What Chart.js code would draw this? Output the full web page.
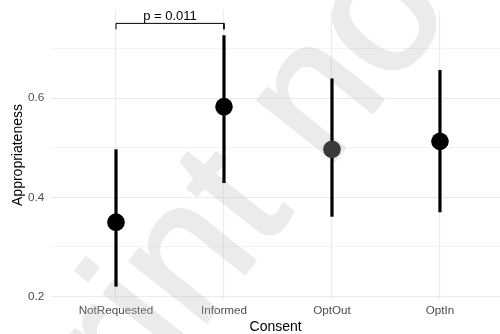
<!DOCTYPE html>
<html><head><meta charset="utf-8">
<script src="https://cdn.jsdelivr.net/npm/chart.js@4.4.0/dist/chart.umd.min.js"></script>
<style>html,body{margin:0;padding:0;background:#fff}</style>
</head><body>
<canvas id="c" width="500" height="334"></canvas>
<script>
const categories = ['NotRequested', 'Informed', 'OptOut', 'OptIn'];
const means = [0.350, 0.583, 0.497, 0.513];
const lower = [0.220, 0.429, 0.361, 0.370];
const upper = [0.497, 0.727, 0.640, 0.657];
const yTicks = [0.2, 0.3, 0.4, 0.5, 0.6, 0.7];
const yLabels = ['0.2', '', '0.4', '', '0.6', ''];
const bracketCats = [1, 2];
const bracketTop = 0.751;
const bracketFoot = 0.739;
const bracketLabel = 'p = 0.011';
const watermarkText = 'Preprint not peer reviewed';

const FONT = "'Liberation Sans', Arial, Helvetica, sans-serif";
const pointColors = ['#000', '#000', '#3a3a3a', '#000'];

const datasets = [];
datasets.push({
  label: 'mean',
  data: means.map((m, i) => ({x: i + 1, y: m})),
  pointRadius: 8.8,
  pointBackgroundColor: pointColors,
  pointBorderWidth: 0,
  showLine: false,
  order: 0,
  clip: false
});
categories.forEach((c, i) => {
  datasets.push({
    label: 'ci' + i,
    data: [{x: i + 1, y: lower[i]}, {x: i + 1, y: upper[i]}],
    showLine: true,
    borderColor: '#000',
    borderWidth: 3.2,
    borderCapStyle: 'butt',
    pointRadius: 0,
    order: 1,
    clip: false
  });
});
datasets.push({
  label: 'bracket',
  data: [
    {x: bracketCats[0], y: bracketFoot}, {x: bracketCats[0], y: bracketTop},
    {x: bracketCats[1], y: bracketTop}, {x: bracketCats[1], y: bracketFoot}
  ],
  showLine: true,
  borderColor: '#000',
  borderWidth: 1,
  pointRadius: 0,
  order: 1,
  clip: false
});

const annotPlugin = {
  id: 'annot',
  beforeDatasetsDraw(chart) {
    const ctx = chart.ctx;
    const off = document.createElement('canvas');
    off.width = chart.width; off.height = chart.height;
    const o = off.getContext('2d');
    const F = 185, th = 51.5 * Math.PI / 180;
    o.font = F + 'px ' + FONT;
    const s = o.measureText('Prepr').width + o.measureText('i').width / 2;
    const h = 0.675 * F;
    const bx = Math.cos(th), by = -Math.sin(th);
    const ux = -Math.sin(th), uy = -Math.cos(th);
    const Dx = 88, Dy = 270;
    const Ox = Dx - s * bx - h * ux, Oy = Dy - s * by - h * uy;
    o.translate(Ox, Oy);
    o.rotate(-th);
    o.fillStyle = 'rgb(183,183,183)';
    o.strokeStyle = 'rgb(183,183,183)';
    o.lineWidth = 3;
    o.lineJoin = 'round';
    o.textBaseline = 'alphabetic';
    o.fillText(watermarkText, 0, 0);
    o.strokeText(watermarkText, 0, 0);
    ctx.save();
    ctx.globalAlpha = 0.28;
    ctx.drawImage(off, 0, 0);
    ctx.restore();
  },
  afterDatasetsDraw(chart) {
    const ctx = chart.ctx;
    const xs = chart.scales.x, ys = chart.scales.y;
    ctx.save();
    ctx.fillStyle = '#000';
    ctx.font = '13px ' + FONT;
    ctx.textAlign = 'center';
    ctx.textBaseline = 'alphabetic';
    ctx.fillText(bracketLabel, xs.getPixelForValue((bracketCats[0] + bracketCats[1]) / 2), ys.getPixelForValue(bracketTop) - 3.4);
    ctx.restore();
  }
};

new Chart(document.getElementById('c'), {
  type: 'scatter',
  data: {datasets},
  options: {
    responsive: false,
    animation: false,
    devicePixelRatio: 1,
    layout: {autoPadding: false, padding: {top: 10, left: 0, right: 0, bottom: 0}},
    plugins: {legend: {display: false}, tooltip: {enabled: false}},
    scales: {
      x: {
        type: 'linear',
        min: 0.4,
        max: 4.556,
        afterBuildTicks: s => { s.ticks = categories.map((c, i) => ({value: i + 1})); },
        afterFit: s => { s.height = 34; s.paddingLeft = 0; s.paddingRight = 0; },
        ticks: {
          callback: v => categories[Math.round(v) - 1],
          color: '#4d4d4d',
          font: {family: FONT, size: 11.7},
          padding: 4,
          autoSkip: false,
          maxRotation: 0
        },
        grid: {color: '#ebebeb', lineWidth: 1.1, drawTicks: false},
        border: {display: false},
        title: {display: true, text: 'Consent', color: '#000', font: {family: FONT, size: 14, lineHeight: 1}, padding: {top: 0, bottom: 0.3}}
      },
      y: {
        type: 'linear',
        min: 0.193,
        max: 0.778,
        afterBuildTicks: s => { s.ticks = yTicks.map(v => ({value: v})); },
        afterFit: s => { s.width = 51.2; s.paddingTop = 0; s.paddingBottom = 0; },
        ticks: {
          callback: (v, i) => yLabels[i],
          color: '#4d4d4d',
          font: {family: FONT, size: 11.7},
          padding: 7
        },
        grid: {
          color: '#ebebeb',
          lineWidth: ctx => (yLabels[ctx.index] === '' ? 0.6 : 1.1),
          drawTicks: false
        },
        border: {display: false},
        title: {display: true, text: 'Appropriateness', color: '#000', font: {family: FONT, size: 14, lineHeight: 1}, padding: {top: 11.3, bottom: 0}}
      }
    }
  },
  plugins: [annotPlugin]
});
</script>
</body></html>
